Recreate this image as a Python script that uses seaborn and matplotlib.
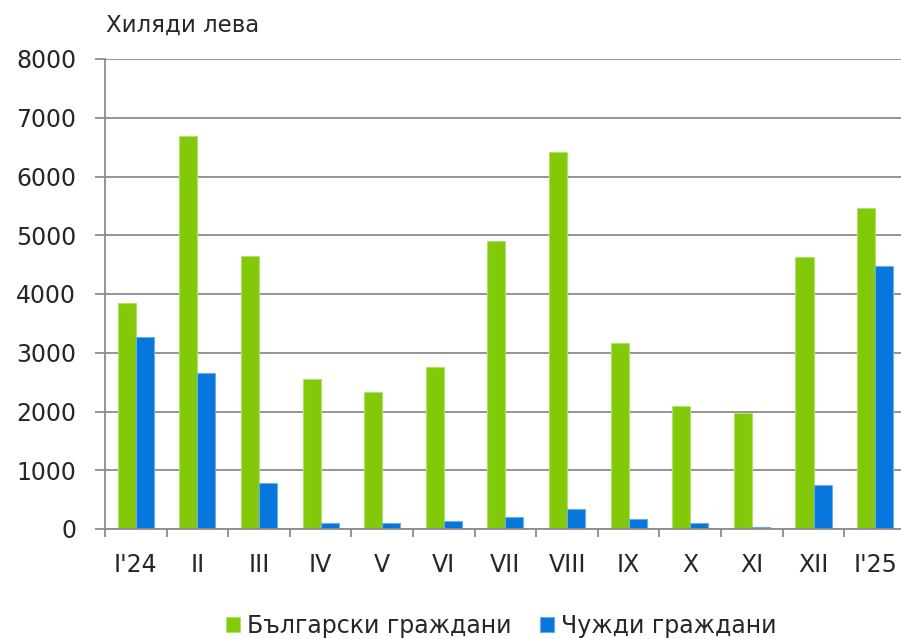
# -*- coding: utf-8 -*-
"""
Monthly bars: Bulgarian vs foreign citizens, thousand leva
"""

import pandas as pd
import seaborn as sns
import matplotlib.pyplot as plt
import matplotlib.ticker as mticker
import matplotlib.colors as mcolors

sns.set_style('white')
plt.rcParams['font.family'] = ['DejaVu Sans']

### Data
months = ["I'24", 'II', 'III', 'IV', 'V', 'VI', 'VII', 'VIII', 'IX', 'X', 'XI', 'XII', "I'25"]
bulgarian = [3850, 6690, 4650, 2550, 2340, 2750, 4895, 6420, 3160, 2100, 1975, 4625, 5470]
foreign = [3265, 2650, 785, 107, 105, 140, 205, 340, 170, 107, 40, 750, 4480]
series_names = ['Български граждани', 'Чужди граждани']

df = pd.DataFrame({
    'month': months * 2,
    'value': bulgarian + foreign,
    'group': [series_names[0]] * len(months) + [series_names[1]] * len(months),
})

### Style
fontsize = 17
green = '#82C909'
blue = '#0676DC'
gridcol = '#8C8C8C'

fig = plt.figure(figsize=(9.01, 6.39), dpi=100)
ax = fig.add_axes([105 / 901, 1 - 529 / 639, 1 - 105 / 901, (529 - 59) / 639])

sns.barplot(
    data=df, x='month', y='value', hue='group',
    palette=[green, blue], width=0.585, saturation=1, ax=ax,
    )

### Light bar outlines
for p in ax.patches:
    fc = mcolors.to_rgb(p.get_facecolor())
    light = tuple(c + (1 - c) * 0.4 for c in fc)
    p.set_edgecolor(light)
    p.set_linewidth(0.8)

### Axes limits and grid
ax.set_ylim(0, 8000)
ax.set_xlim(-0.5, 12.42)
ax.yaxis.set_major_locator(mticker.MultipleLocator(1000))
ax.yaxis.grid(True, color=gridcol, linewidth=1.3)
ax.set_axisbelow(True)

for m in ['top', 'right']:
    ax.spines[m].set_visible(False)
for m in ['left', 'bottom']:
    ax.spines[m].set_color(gridcol)
    ax.spines[m].set_linewidth(1.3)

ax.set_xlabel('')
ax.set_ylabel('')

### Ticks
ax.tick_params(axis='y', which='major', length=7.2, width=1.3, color=gridcol,
               pad=13.5, labelsize=fontsize, direction='out', left=True)
ax.xaxis.set_minor_locator(mticker.FixedLocator([i - 0.5 for i in range(len(months) + 1)]))
ax.tick_params(axis='x', which='minor', length=5.5, width=1.3, color=gridcol,
               direction='out', bottom=True)
ax.tick_params(axis='x', which='major', length=0, pad=17, labelsize=fontsize)

### Unit label
fig.text(106 / 901, 1 - 25 / 639, 'Хиляди лева', fontsize=fontsize - 0.5,
         ha='left', va='center')

### Legend
ax.legend(loc='center', bbox_to_anchor=(501 / 901, 13 / 639), bbox_transform=fig.transFigure,
          ncol=2, frameon=False, fontsize=fontsize, handlelength=0.6, handleheight=0.6,
          handletextpad=0.3, columnspacing=1.2, borderaxespad=0)

fig.savefig('out.png', dpi=100)
